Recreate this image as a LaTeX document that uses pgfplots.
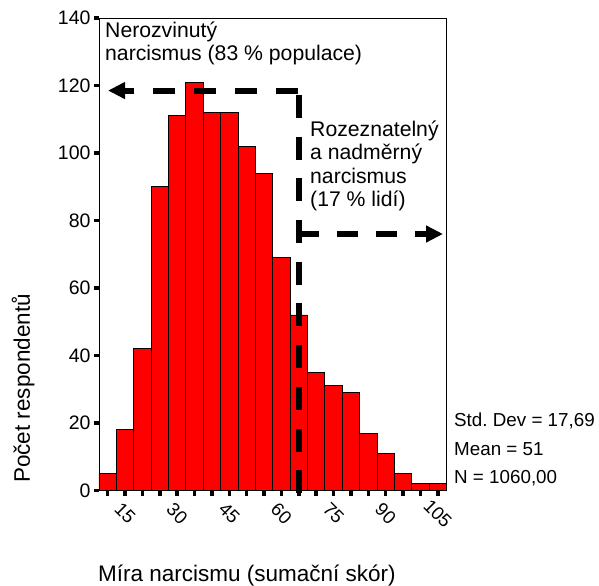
\documentclass[border=0pt]{standalone}
\usepackage{pgfplots}
\pgfplotsset{compat=1.18}
\usetikzlibrary{arrows.meta}
\usepackage{fontspec}
\setmainfont{Liberation Sans}

\newcommand{\tickfont}{\fontsize{19.5bp}{21bp}\selectfont}
\newcommand{\notefont}{\fontsize{21.2bp}{23bp}\selectfont}
\newcommand{\statfont}{\fontsize{18.8bp}{20bp}\selectfont}
\newcommand{\labfont}{\fontsize{22.5bp}{24bp}\selectfont}

\begin{document}
\begin{tikzpicture}
\begin{axis}[
    at={(0,0)}, anchor=south west,
    scale only axis,
    width=347.5bp, height=472.5bp,
    xmin=7.5, xmax=107.5,
    ymin=0, ymax=140,
    axis line style={line width=0.8bp},
    xtick={10,15,...,105},
    xticklabels={,15,,,30,,,45,,,60,,,75,,,90,,,105},
    ytick={0,20,...,140},
    xtick pos=lower, ytick pos=left,
    tick align=outside,
    major tick length=5bp,
    tick style={line width=3.5bp, black},
    /pgf/number format/assume math mode=true,
    ticklabel style={font=\tickfont},
    xticklabel style={yshift=-18bp, rotate=-45, anchor=center, font=\fontsize{18.5bp}{20bp}\selectfont},
    clip=false,
]
\addplot[ybar, bar width=5, bar shift=0pt, fill=red, draw=black, line width=0.8bp]
coordinates {
    (10,5)(15,18)(20,42)(25,90)(30,111)(35,121)(40,112)(45,112)(50,102)(55,94)
    (60,69)(65,52)(70,35)(75,31)(80,29)(85,17)(90,11)(95,5)(100,2)(105,2)
};

% hranice 83 % / 17 %
\draw[line width=6bp, dash pattern=on 23bp off 18.7bp] (axis cs:65,117.2) -- (axis cs:65,-2.2);
\draw[line width=6bp, dash pattern=on 22bp off 19bp, -{Triangle[length=17bp,width=16bp]}]
    (axis cs:64.8,118.5) -- (axis cs:10.1,118.5);
\draw[line width=6bp, dash pattern=on 21bp off 18bp, -{Triangle[length=17bp,width=16bp]}]
    (axis cs:64.8,76) -- (axis cs:106.5,76);
\end{axis}

\node[anchor=base west, inner sep=0, font=\notefont] at (6bp,453.2bp) {Nerozvinutý};
\node[anchor=base west, inner sep=0, font=\notefont] at (6bp,430bp) {narcismus (83 \% populace)};

\node[anchor=base west, inner sep=0, font=\notefont] at (211bp,353.8bp) {Rozeznatelný};
\node[anchor=base west, inner sep=0, font=\notefont] at (211bp,330.5bp) {a nadměrný};
\node[anchor=base west, inner sep=0, font=\notefont] at (211bp,307.2bp) {narcismus};
\node[anchor=base west, inner sep=0, font=\notefont] at (211bp,283.9bp) {(17 \% lidí)};

\node[anchor=base west, inner sep=0, font=\statfont] at (355bp,63.5bp) {Std.\ Dev = 17,69};
\node[anchor=base west, inner sep=0, font=\statfont] at (355bp,35.5bp) {Mean = 51};
\node[anchor=base west, inner sep=0, font=\statfont] at (355bp,7.5bp) {N = 1060,00};

\node[anchor=base west, inner sep=0, font=\labfont] at (-1bp,-91.2bp) {Míra narcismu (sumační skór)};
\node[anchor=base west, inner sep=0, font=\labfont, rotate=90] at (-69bp,7.5bp) {Počet respondentů};

\pgfresetboundingbox
\useasboundingbox (-99bp,-95.5bp) rectangle (500bp,490.5bp);
\end{tikzpicture}
\end{document}
